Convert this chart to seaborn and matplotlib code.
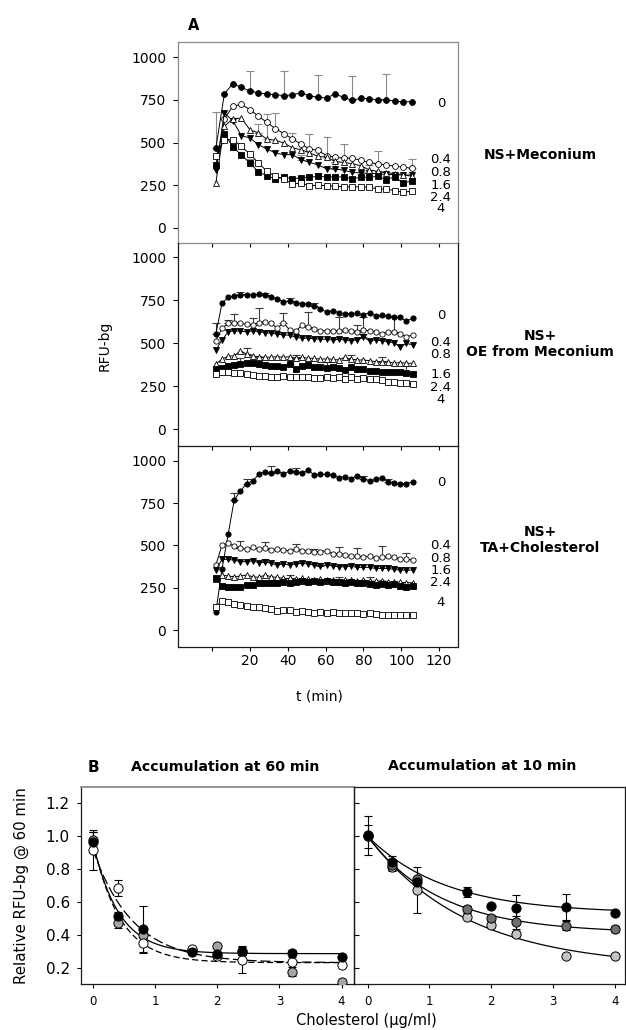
import numpy as np
import matplotlib
matplotlib.use("Agg")
import matplotlib.pyplot as plt
import seaborn as sns

sns.set_style("ticks")
plt.rcParams["font.family"] = ["DejaVu Sans"]
plt.rcParams["text.color"] = "black"
plt.rcParams["axes.labelcolor"] = "black"
plt.rcParams["xtick.color"] = "black"
plt.rcParams["ytick.color"] = "black"

# ---------------- Panel A: time courses ----------------
conc_labels = ["0", "0.4", "0.8", "1.6", "2.4", "4"]

t_top = [2, 6.5, 11, 15.5, 20, 24.5, 29, 33.5, 38, 42.5, 47, 51.5, 56, 60.5,
         65, 69.5, 74, 78.5, 83, 87.5, 92, 96.5, 101, 105.5]
t_fine = [2, 5.25, 8.5, 11.75, 15, 18.25, 21.5, 24.75, 28, 31.25, 34.5, 37.75,
          41, 44.25, 47.5, 50.75, 54, 57.25, 60.5, 63.75, 67, 70.25, 73.5,
          76.75, 80, 83.25, 86.5, 89.75, 93, 96.25, 99.5, 102.75, 106]

# NS + Meconium
mec_0 = [466, 785, 846, 824, 802, 791, 785, 781, 775, 781, 791, 773, 767, 761,
         785, 765, 748, 759, 757, 750, 752, 742, 738, 740]
mec_04 = [356, 640, 713, 724, 693, 654, 618, 581, 552, 521, 491, 462, 454, 423,
          413, 409, 409, 395, 384, 374, 370, 360, 356, 348]
mec_08 = [337, 673, 628, 540, 527, 487, 462, 438, 429, 429, 399, 384, 368, 346,
          346, 337, 325, 321, 319, 317, 313, 311, 309, 309]
mec_16 = [262, 595, 640, 643, 575, 556, 519, 513, 497, 468, 458, 439, 419, 413,
          389, 383, 376, 364, 340, 330, 322, 318, 310, 302]
mec_24 = [370, 552, 474, 427, 380, 327, 305, 286, 298, 286, 294, 296, 301, 298,
          298, 298, 286, 296, 296, 301, 282, 298, 262, 274]
mec_4 = [423, 517, 517, 477, 433, 380, 331, 301, 286, 257, 262, 247, 249, 247,
         243, 240, 240, 239, 238, 227, 227, 217, 210, 213]

# NS + OE from Meconium
oe_0 = [554, 732, 767, 775, 783, 783, 779, 787, 779, 771, 759, 740, 748, 736,
        729, 729, 717, 701, 682, 690, 678, 670, 670, 674, 666, 678, 659, 662,
        659, 651, 651, 628, 647]
oe_04 = [515, 587, 616, 620, 616, 612, 606, 620, 626, 616, 587, 620, 577, 570,
         606, 597, 581, 573, 573, 573, 573, 577, 573, 567, 577, 573, 567, 554,
         567, 567, 554, 538, 548]
oe_08 = [461, 519, 567, 573, 570, 567, 573, 567, 562, 558, 554, 548, 547, 535,
         529, 529, 527, 523, 523, 519, 523, 519, 515, 519, 535, 515, 519, 515,
         509, 504, 477, 500, 490]
oe_16 = [380, 407, 426, 426, 457, 437, 426, 422, 419, 419, 422, 419, 422, 413,
         419, 413, 413, 407, 410, 407, 403, 419, 407, 403, 403, 399, 393, 393,
         393, 384, 388, 384, 384]
oe_24 = [351, 354, 368, 374, 380, 384, 388, 380, 376, 368, 368, 360, 380, 348,
         368, 376, 364, 360, 354, 360, 354, 345, 360, 348, 348, 341, 341, 335,
         335, 335, 335, 329, 322]
oe_4 = [322, 335, 335, 329, 326, 322, 316, 310, 310, 306, 306, 310, 306, 302,
        306, 302, 298, 297, 302, 297, 302, 291, 302, 294, 297, 291, 294, 287,
        277, 277, 271, 271, 263]

# NS + TA + Cholesterol
ta_0 = [105, 360, 565, 770, 820, 865, 880, 920, 935, 925, 940, 920, 940, 935,
        925, 945, 915, 920, 920, 915, 900, 905, 895, 910, 895, 880, 890, 900,
        875, 870, 865, 865, 875]
ta_04 = [384, 502, 512, 496, 482, 477, 488, 477, 482, 472, 477, 472, 469, 477,
         469, 469, 463, 463, 469, 449, 452, 443, 437, 437, 429, 437, 423, 429,
         437, 429, 417, 417, 413]
ta_08 = [354, 417, 417, 413, 404, 404, 408, 398, 404, 394, 384, 390, 384, 390,
         394, 390, 384, 378, 384, 378, 374, 374, 378, 370, 370, 370, 364, 364,
         364, 358, 354, 354, 354]
ta_16 = [300, 325, 319, 315, 319, 325, 315, 311, 325, 315, 311, 305, 305, 300,
         305, 300, 298, 300, 296, 298, 292, 298, 294, 290, 296, 290, 288, 292,
         286, 284, 282, 280, 279]
ta_24 = [305, 260, 252, 252, 256, 266, 266, 279, 279, 276, 279, 286, 279, 286,
         291, 286, 291, 286, 291, 286, 286, 279, 286, 279, 276, 272, 266, 272,
         266, 272, 260, 256, 260]
ta_4 = [138, 173, 167, 154, 148, 142, 138, 134, 128, 122, 114, 120, 116, 108,
        114, 108, 102, 108, 102, 108, 98, 102, 98, 98, 94, 98, 94, 89, 89, 89,
        89, 89, 89]

# upper error bars: (series index, point index, error)
mec_err = [(0, 0, 215), (0, 4, 116), (0, 8, 146), (0, 12, 131), (0, 16, 145),
           (0, 20, 152), (1, 7, 92), (1, 9, 35), (1, 11, 87), (1, 13, 109),
           (1, 15, 84), (1, 19, 74), (1, 23, 55), (3, 5, 51), (3, 6, 150),
           (2, 10, 30), (2, 14, 40), (4, 4, 25), (4, 12, 20), (3, 18, 30)]
oe_err = [(0, 0, 62), (0, 4, 17), (0, 8, 12), (0, 12, 14), (0, 16, 16),
          (1, 2, 20), (1, 3, 50), (1, 6, 40), (1, 7, 83), (1, 11, 54),
          (1, 15, 87), (1, 20, 82), (1, 23, 40), (1, 24, 78), (1, 29, 88),
          (3, 5, 34), (3, 13, 20), (3, 27, 30), (4, 4, 35), (4, 7, 40),
          (4, 12, 30), (4, 18, 40), (4, 31, 40), (2, 24, 20), (3, 22, 25)]
ta_err = [(0, 3, 40), (0, 5, 25), (0, 9, 45), (0, 13, 25), (0, 24, 15),
          (0, 28, 15), (1, 4, 45), (1, 8, 40), (1, 13, 30), (1, 16, 15),
          (1, 20, 40), (1, 23, 45), (1, 27, 65), (1, 31, 40), (2, 8, 15),
          (2, 17, 20), (3, 12, 20), (3, 20, 20), (3, 25, 25), (4, 10, 20)]

# marker styles for concentrations 0, 0.4, 0.8, 1.6, 2.4, 4
marker_shapes = ["o", "o", "v", "^", "s", "s"]
marker_faces = ["black", "white", "black", "white", "black", "white"]

panels = [
    dict(t=t_top, series=[mec_0, mec_04, mec_08, mec_16, mec_24, mec_4],
         err=mec_err, ylim=(-90, 1090), ecolor="#8a8a8a", spine="#8a8a8a",
         lab_y=[731, 399, 323, 247, 176, 111], ms=4.2,
         name="NS+Meconium", name_y=155),
    dict(t=t_fine, series=[oe_0, oe_04, oe_08, oe_16, oe_24, oe_4],
         err=oe_err, ylim=(-97, 1083), ecolor="#3a3a3a", spine="#1a1a1a",
         lab_y=[664, 502, 432, 316, 241, 171], ms=3.8,
         name="NS+\nOE from Meconium", name_y=344),
    dict(t=t_fine, series=[ta_0, ta_04, ta_08, ta_16, ta_24, ta_4],
         err=ta_err, ylim=(-100, 1087), ecolor="#3a3a3a", spine="#1a1a1a",
         lab_y=[874, 502, 425, 349, 278, 160], ms=3.8,
         name="NS+\nTA+Cholesterol", name_y=540),
]

W, H = 626, 1030
fig = plt.figure(figsize=(W / 100, H / 100), dpi=100)


def fx(px):
    return px / W


def fy(py):
    return 1 - py / H


a_left, a_right = 178, 458
a_edges = [(42, 243), (243, 446), (446, 647)]

for k, (p, (top, bot)) in enumerate(zip(panels, a_edges)):
    ax = fig.add_axes([fx(a_left), fy(bot), fx(a_right - a_left),
                       (bot - top) / H])
    t = np.array(p["t"])
    # error bars first so markers sit on top
    for si, pi, e in p["err"]:
        v = p["series"][si][pi]
        ax.errorbar([t[pi]], [v], yerr=[[0], [e]], fmt="none",
                    ecolor=p["ecolor"], elinewidth=0.8, capsize=2.6,
                    capthick=0.8, zorder=1)
    for si, vals in enumerate(p["series"]):
        sns.lineplot(x=t, y=np.array(vals, dtype=float), ax=ax,
                     color="black", linewidth=0.7, marker=marker_shapes[si],
                     markersize=p["ms"], markerfacecolor=marker_faces[si],
                     markeredgecolor="black", markeredgewidth=0.6,
                     estimator=None, sort=False, legend=False, zorder=2)
    for lab, ly in zip(conc_labels, p["lab_y"]):
        ax.text(121, ly, lab, ha="center", va="center", fontsize=9.5)
    ax.set_xlim(-18, 130)
    ax.set_ylim(*p["ylim"])
    ax.set_yticks([0, 250, 500, 750, 1000])
    ax.set_xticks([0, 20, 40, 60, 80, 100, 120])
    ax.set_xlabel("")
    ax.set_ylabel("")
    ax.tick_params(axis="y", direction="out", length=3.5, width=0.8,
                   labelsize=10, pad=5, colors="black")
    ax.tick_params(axis="x", direction="out", length=3, width=0.8,
                   labelsize=10, pad=2, colors="black")
    for sp in ax.spines.values():
        sp.set_color(p["spine"])
        sp.set_linewidth(0.9)
    if k > 0:
        ax.spines["top"].set_visible(False)
    if k < 2:
        ax.set_xticklabels([])
    else:
        ax.set_xticklabels(["", "20", "40", "60", "80", "100", "120"])
    ax.patch.set_alpha(0)
    fig.text(fx(540), fy(p["name_y"]), p["name"], ha="center", va="center",
             fontsize=10, fontweight="bold", linespacing=1.25)

fig.text(fx(194), fy(25), "A", ha="center", va="center", fontsize=10.5,
         fontweight="bold")
fig.text(fx(105), fy(346), "RFU-bg", ha="center", va="center", fontsize=10,
         rotation=90)
fig.text(fx(319), fy(696), "t (min)", ha="center", va="center", fontsize=10)

# ---------------- Panel B: dose response ----------------
chol = [0, 0.4, 0.8, 1.6, 2.0, 2.4, 3.2, 4.0]

acc60_black = [0.964, 0.517, 0.436, 0.295, 0.282, 0.304, 0.287, 0.267]
acc60_gray = [0.978, 0.470, 0.401, 0.310, 0.330, 0.294, 0.176, 0.110]
acc60_open = [0.917, 0.685, 0.351, 0.314, 0.273, 0.246, 0.232, 0.218]
acc60_black_err = [0.06, 0.02, 0.14, 0.01, 0.01, 0.03, 0.02, 0.0]
acc60_gray_err = [0.05, 0.03, 0.02, 0.01, 0.0, 0.02, 0.03, 0.0]
acc60_open_err = [0.12, 0.05, 0.06, 0.01, 0.02, 0.08, 0.01, 0.0]

acc10_black = [1.005, 0.842, 0.720, 0.660, 0.573, 0.561, 0.567, 0.533]
acc10_dark = [1.000, 0.822, 0.741, 0.554, 0.503, 0.476, 0.456, 0.435]
acc10_light = [1.000, 0.810, 0.674, 0.511, 0.460, 0.405, 0.273, 0.273]
acc10_black_err = [0.12, 0.04, 0.0, 0.03, 0.01, 0.08, 0.08, 0.01]
acc10_dark_err = [0.07, 0.03, 0.0, 0.02, 0.02, 0.04, 0.03, 0.02]
acc10_light_err = [0.0, 0.02, 0.14, 0.01, 0.01, 0.02, 0.0, 0.0]

# one-phase exponential decay fits: (plateau, span, rate)
fit60_black = (0.285, 0.68, 2.4)
fit60_gray = (0.23, 0.74, 2.3)
fit60_open = (0.23, 0.69, 1.56)
fit10_black = (0.53, 0.47, 0.80)
fit10_dark = (0.41, 0.59, 0.85)
fit10_light = (0.20, 0.80, 0.62)

b_top, b_bot = 787, 984
axL = fig.add_axes([fx(81), fy(b_bot), fx(354 - 81), (b_bot - b_top) / H])
axR = fig.add_axes([fx(354), fy(b_bot), fx(625 - 354), (b_bot - b_top) / H])

xs = np.linspace(0, 4, 200)


def decay(params):
    plateau, span, rate = params
    return plateau + span * np.exp(-rate * xs)


def draw_fit(ax, params, dashes=None):
    kw = dict(color="black", linewidth=0.9, legend=False, zorder=2)
    line = sns.lineplot(x=xs, y=decay(params), ax=ax, **kw).lines[-1]
    if dashes is not None:
        line.set_dashes(dashes)


def draw_points(ax, vals, errs, face):
    ax.errorbar(chol, vals, yerr=errs, fmt="none", ecolor="black",
                elinewidth=0.8, capsize=3, capthick=0.8, zorder=2.5)
    sns.scatterplot(x=chol, y=vals, ax=ax, s=44, color=face,
                    edgecolor="black", linewidth=0.7, zorder=3, legend=False)


draw_fit(axL, fit60_black)
draw_fit(axL, fit60_gray, dashes=(5, 2.5))
draw_fit(axL, fit60_open, dashes=(8, 3))
draw_points(axL, acc60_gray, acc60_gray_err, "#a4a4a4")
draw_points(axL, acc60_open, acc60_open_err, "white")
draw_points(axL, acc60_black, acc60_black_err, "black")

draw_fit(axR, fit10_black)
draw_fit(axR, fit10_dark)
draw_fit(axR, fit10_light)
draw_points(axR, acc10_light, acc10_light_err, "#c4c4c4")
draw_points(axR, acc10_dark, acc10_dark_err, "#6e6e6e")
draw_points(axR, acc10_black, acc10_black_err, "black")

for ax in (axL, axR):
    ax.set_ylim(0.1, 1.3)
    ax.set_yticks([0.2, 0.4, 0.6, 0.8, 1.0, 1.2])
    ax.set_xticks([0, 1, 2, 3, 4])
    ax.set_xlabel("")
    ax.set_ylabel("")
    ax.tick_params(axis="x", direction="out", length=3, width=0.8,
                   labelsize=8.5, pad=5, colors="black")
    for sp in ax.spines.values():
        sp.set_color("#1a1a1a")
        sp.set_linewidth(0.9)
    ax.patch.set_alpha(0)

axL.set_xlim(-0.19, 4.2)
axR.set_xlim(-0.22, 4.16)
axL.set_yticklabels(["0.2", "0.4", "0.6", "0.8", "1.0", "1.2"])
axL.tick_params(axis="y", direction="out", length=3, width=0.8,
                labelsize=11, pad=5, colors="black")
axL.spines["top"].set_color("#8a8a8a")
axL.spines["top"].set_linewidth(1.3)
axR.tick_params(axis="y", direction="in", length=3.5, width=0.8,
                labelleft=False, colors="black")

fig.text(fx(93), fy(767), "B", ha="center", va="center", fontsize=11,
         fontweight="bold")
fig.text(fx(225), fy(767), "Accumulation at 60 min", ha="center",
         va="center", fontsize=10.2, fontweight="bold")
fig.text(fx(482), fy(766), "Accumulation at 10 min", ha="center",
         va="center", fontsize=10.2, fontweight="bold")
fig.text(fx(21), fy(886), "Relative RFU-bg @ 60 min", ha="center",
         va="center", fontsize=10.8, rotation=90)
fig.text(fx(366), fy(1021), "Cholesterol (\u03bcg/ml)", ha="center",
         va="center", fontsize=10.5)

fig.savefig("out.png", dpi=100, facecolor="white")
